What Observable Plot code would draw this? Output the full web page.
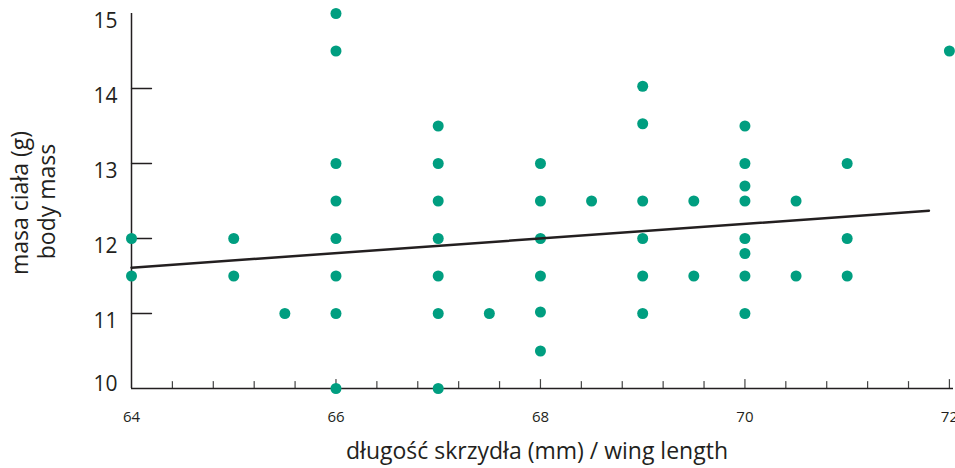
<!DOCTYPE html>
<html><head><meta charset="utf-8">
<script src="https://cdn.jsdelivr.net/npm/d3@7"></script>
<script src="https://cdn.jsdelivr.net/npm/@observablehq/plot@0.6"></script>
<style>body{margin:0;background:#fff} svg{display:block}</style>
</head><body><div id="chart"></div>
<script>
const wingLength = [64,64, 65,65, 65.5,
  66,66,66,66,66,66,66,66,
  67,67,67,67,67,67,67, 67.5,
  68,68,68,68,68,68, 68.5,
  69,69,69,69,69,69, 69.5,69.5,
  70,70,70,70,70,70,70,70, 70.5,70.5,
  71,71,71, 72];
const bodyMass = [12,11.5, 12,11.5, 11,
  15,14.5,13,12.5,12,11.5,11,10,
  13.5,13,12.5,12,11.5,11,10, 11,
  13,12.5,12,11.5,11.02,10.5, 12.5,
  14.03,13.53,12.5,12,11.5,11, 12.5,11.5,
  13.5,13,12.7,12.5,12,11.8,11.5,11, 12.5,11.5,
  13,12,11.5, 14.5];
const fitX = [64, 71.8];
const fitY = [11.61, 12.37];
const yLabelTicks = [11,12,13,14,15];
const yBottomLabel = [10];
const yInnerTicks = [11,12,13,14];
const xLabelTicks = [64,66,68,70,72];
const xMajorTicks = [66,68,70,72];
const xMinorTicks = [64.4,64.8,65.2,65.6,66.4,66.8,67.2,67.6,68.4,68.8,69.2,69.6,70.4,70.8,71.2,71.6];
const xTitle = "długość skrzydła (mm) / wing length";
const yTitle1 = "masa ciała (g)";
const yTitle2 = "body mass";

const points = wingLength.map((x, i) => ({x, y: bodyMass[i]}));
const fit = fitX.map((x, i) => ({x, y: fitY[i]}));
const tickShape = {draw(ctx, l) { ctx.moveTo(0, 0); ctx.lineTo(0, -l); }};
const ink = "#231f20";
const font = "'Open Sans', 'Noto Sans', sans-serif";

const chart = Plot.plot({
  width: 955,
  height: 468,
  marginLeft: 131,
  marginRight: 2,
  marginTop: 13,
  marginBottom: 80,
  style: {fontFamily: font, color: ink, background: "#fff"},
  x: {domain: [64, 72.04], axis: null},
  y: {domain: [10, 15], axis: null},
  marks: [
    Plot.axisY({ticks: yLabelTicks, tickSize: 0, tickPadding: 14, fontSize: 21, dy: 7.5, label: null, tickFormat: d => d, color: ink}),
    Plot.axisY({ticks: yBottomLabel, tickSize: 0, tickPadding: 14, fontSize: 21, dy: -4, label: null, tickFormat: d => d, color: ink}),
    Plot.axisX({ticks: xLabelTicks, tickSize: 0, tickPadding: 23, fontSize: 15, label: null, tickFormat: d => d, color: ink}),
    Plot.vector(yInnerTicks, {x: 64, y: d => d, rotate: 90, length: 20, anchor: "start", shape: tickShape, stroke: ink, strokeWidth: 1.3}),
    Plot.vector(xMinorTicks, {x: d => d, y: 10, rotate: 0, length: 7, anchor: "start", shape: tickShape, stroke: "#444", strokeWidth: 1.2}),
    Plot.vector(xMajorTicks, {x: d => d, y: 10, rotate: 0, length: 9, anchor: "start", shape: tickShape, stroke: "#444", strokeWidth: 1.2}),
    Plot.ruleX([64], {stroke: ink, strokeWidth: 1.5}),
    Plot.ruleY([10], {stroke: ink, strokeWidth: 1.5}),
    Plot.dot(points, {x: "x", y: "y", r: 5.5, fill: "#009E80", stroke: "none"}),
    Plot.line(fit, {x: "x", y: "y", stroke: ink, strokeWidth: 2.5}),
    Plot.text([xTitle], {text: d => d, frameAnchor: "bottom", textAnchor: "middle", lineAnchor: "middle", dy: 63, dx: -5.5, fontSize: 23, fill: ink}),
    Plot.text([yTitle1], {text: d => d, frameAnchor: "left", textAnchor: "middle", lineAnchor: "middle", rotate: -90, dx: -110.5, dy: 2, fontSize: 23, fill: ink}),
    Plot.text([yTitle2], {text: d => d, frameAnchor: "left", textAnchor: "middle", lineAnchor: "middle", rotate: -90, dx: -83.5, dy: 0.5, fontSize: 23, fill: ink})
  ]
});
document.getElementById("chart").append(chart);
</script>
</body></html>
